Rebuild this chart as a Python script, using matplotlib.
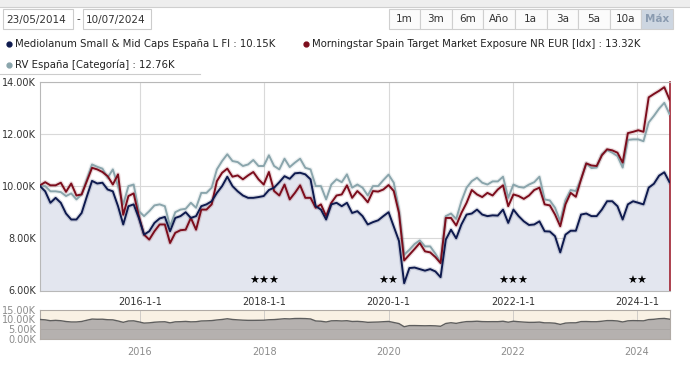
import numpy as np
import pandas as pd
import matplotlib
matplotlib.use("Agg")
import matplotlib.pyplot as plt
import matplotlib.dates as mdates
from matplotlib.patches import Rectangle
from matplotlib.lines import Line2D

# ---------------- data ----------------
start_date = "2014-05-23"
end_date = "2024-07-10"

mediolanum = [
    10.0, 9.8, 9.36, 9.55, 9.36, 8.95, 8.72, 8.72, 8.97, 9.6,
    10.2, 10.1, 10.13, 9.87, 9.8, 9.23, 8.53, 9.23, 9.3, 8.78,
    8.14, 8.27, 8.59, 8.76, 8.82, 8.27, 8.78, 8.85, 9.0, 8.78,
    8.85, 9.23, 9.3, 9.42, 9.74, 10.0, 10.36, 10.0, 9.8, 9.64,
    9.55, 9.55, 9.58, 9.62, 9.85, 9.94, 10.15, 10.38, 10.28, 10.49,
    10.51, 10.45, 10.26, 9.23, 9.1, 8.72, 9.3, 9.36, 9.23, 9.36,
    8.97, 9.04, 8.85, 8.53, 8.62, 8.69, 8.85, 9.0, 8.45, 7.9,
    6.28, 6.86, 6.88, 6.82, 6.76, 6.82, 6.73, 6.51, 7.95, 8.33,
    8.0, 8.53, 8.91, 8.95, 9.1, 8.91, 8.85, 8.88, 8.87, 9.1,
    8.59, 9.1, 8.85, 8.65, 8.51, 8.53, 8.65, 8.27, 8.26, 8.08,
    7.46, 8.14, 8.29, 8.29, 8.91, 8.95, 8.85, 8.85, 9.1, 9.42,
    9.42, 9.23, 8.72, 9.3, 9.42, 9.36, 9.3, 9.94, 10.09, 10.4,
    10.53, 10.15,
]

morningstar = [
    10.03, 10.15, 10.03, 10.03, 10.13, 9.78, 10.1, 9.64, 9.68, 10.19,
    10.7, 10.64, 10.54, 10.38, 10.06, 10.45, 8.9, 9.62, 9.72, 8.85,
    8.14, 7.95, 8.27, 8.53, 8.53, 7.82, 8.21, 8.31, 8.33, 8.78,
    8.33, 9.1, 9.1, 9.3, 10.19, 10.51, 10.67, 10.36, 10.41, 10.26,
    10.41, 10.54, 10.26, 10.06, 10.54, 9.81, 9.64, 10.06, 9.49, 9.74,
    10.03, 9.55, 9.55, 9.17, 9.3, 8.85, 9.36, 9.64, 9.68, 10.03,
    9.55, 9.81, 9.62, 9.38, 9.81, 9.79, 9.87, 10.04, 9.81, 8.97,
    7.15, 7.37, 7.59, 7.82, 7.5, 7.46, 7.28, 7.05, 8.78, 8.78,
    8.49, 8.97, 9.36, 9.85, 9.68, 9.58, 9.74, 9.64, 9.87, 10.03,
    9.23, 9.68, 9.62, 9.51, 9.64, 9.85, 9.94, 9.3, 9.26, 8.91,
    8.46, 9.3, 9.74, 9.59, 10.26, 10.87, 10.79, 10.77, 11.18, 11.41,
    11.37, 11.28, 10.9, 12.03, 12.08, 12.14, 12.08, 13.4, 13.53, 13.65,
    13.79, 13.32,
]

rv_espana = [
    10.0, 10.0, 9.8, 9.8, 9.77, 9.62, 9.72, 9.49, 9.68, 10.26,
    10.83, 10.74, 10.67, 10.32, 10.64, 10.0, 9.3, 10.0, 10.06, 9.04,
    8.85, 9.04, 9.26, 9.3, 9.23, 8.46, 9.0, 9.1, 9.13, 9.36,
    9.17, 9.74, 9.74, 9.94, 10.64, 10.96, 11.22, 10.96, 10.92, 10.77,
    10.83, 11.0, 10.77, 10.77, 11.18, 10.77, 10.64, 11.05, 10.73, 10.9,
    11.05, 10.7, 10.64, 10.0, 10.0, 9.49, 10.06, 10.26, 10.15, 10.45,
    9.94, 10.06, 9.94, 9.64, 10.0, 10.0, 10.23, 10.44, 10.13, 9.1,
    7.37, 7.56, 7.78, 7.92, 7.69, 7.69, 7.41, 7.08, 8.85, 8.95,
    8.74, 9.42, 9.94, 10.19, 10.32, 10.13, 10.06, 10.18, 10.18, 10.36,
    9.55, 10.06, 9.97, 9.94, 10.06, 10.15, 10.36, 9.49, 9.45, 9.17,
    8.65, 9.46, 9.85, 9.81, 10.26, 10.87, 10.69, 10.71, 11.22, 11.38,
    11.28, 11.15, 10.71, 11.77, 11.79, 11.79, 11.72, 12.44, 12.69, 12.97,
    13.19, 12.76,
]

series_names = [
    "Mediolanum Small & Mid Caps España L FI : 10.15K",
    "Morningstar Spain Target Market Exposure NR EUR [Idx] : 13.32K",
    "RV España [Categoría] : 12.76K",
]
y_ticks = [6, 8, 10, 12, 14]
x_tick_dates = ["2016-01-01", "2018-01-01", "2020-01-01", "2022-01-01", "2024-01-01"]
x_tick_labels = ["2016-1-1", "2018-1-1", "2020-1-1", "2022-1-1", "2024-1-1"]
nav_ticks = [0, 5, 10, 15]
nav_labels = ["2016", "2018", "2020", "2022", "2024"]
star_dates = ["2018-01-01", "2020-01-01", "2022-01-01", "2024-01-01"]
star_counts = [3, 2, 3, 2]
buttons = ["1m", "3m", "6m", "Año", "1a", "3a", "5a", "10a", "Máx"]

dates = pd.date_range(start_date, end_date, periods=len(mediolanum))

C_NAVY = "#0e1a4e"
C_RED = "#7c0d1c"
C_GRAY = "#8aa5ac"
C_FILL = "#e3e6ef"
TXT = "#333333"

W, H = 690, 381
fig = plt.figure(figsize=(W / 100, H / 100), dpi=100)
fig.patch.set_facecolor("white")


def fx(px):
    return px / W


def fy(py):
    return 1 - py / H


def rect(x0, y0, x1, y1, fc, ec="none", lw=0.8, z=1):
    fig.add_artist(Rectangle((fx(x0), fy(y1)), fx(x1) - fx(x0), fy(y0) - fy(y1),
                             facecolor=fc, edgecolor=ec, linewidth=lw, zorder=z,
                             transform=fig.transFigure))


# ---------------- header ----------------
rect(0, 0, 690, 6.5, "#eeeeee")
fig.add_artist(Line2D([0, 1], [fy(6.5), fy(6.5)], color="#cfcfcf", lw=0.8, transform=fig.transFigure))
rect(3, 9, 73, 29, "white", "#cccccc")
fig.text(fx(6), fy(19.5), "23/05/2014", fontsize=7.5, color=TXT, va="center", ha="left")
fig.text(fx(78), fy(19.5), "-", fontsize=7.5, color=TXT, va="center", ha="center")
rect(83, 9, 151, 29, "white", "#cccccc")
fig.text(fx(86), fy(19.5), "10/07/2024", fontsize=7.5, color=TXT, va="center", ha="left")

bx0, bw = 388.5, 31.6
for i, b in enumerate(buttons):
    x0 = bx0 + i * bw
    last = i == len(buttons) - 1
    rect(x0, 9, x0 + bw, 29, "#cdd6e1" if last else "#fbfbfb", "#cfcfcf")
    fig.text(fx(x0 + bw / 2), fy(19.5), b, fontsize=7.5,
             color="#8a9bb0" if last else TXT, ha="center", va="center",
             fontweight="bold" if last else "normal")

# legend
leg_pos = [(9, 44), (306, 44), (9, 65)]
for (lx, ly), name, c in zip(leg_pos, series_names, [C_NAVY, C_RED, C_GRAY]):
    fig.add_artist(Line2D([fx(lx)], [fy(ly)], marker="o", markersize=3.5, color=c,
                          linestyle="none", transform=fig.transFigure))
    fig.text(fx(lx + 6), fy(ly), name, fontsize=7.3, color="#222222", va="center", ha="left")
fig.add_artist(Line2D([0, fx(200)], [fy(74), fy(74)], color="#cccccc", lw=0.8, transform=fig.transFigure))

# ---------------- main chart ----------------
L, R, T, B = 40, 669.5, 81.7, 290.5
ax = fig.add_axes([fx(L), fy(B), fx(R) - fx(L), fy(T) - fy(B)])
ax.set_facecolor("white")
x0d, x1d = pd.Timestamp(start_date), pd.Timestamp(end_date)
ax.set_xlim(x0d, x1d)
ax.set_ylim(6, 14)

ax.fill_between(dates, mediolanum, 0, color=C_FILL, lw=0, zorder=1)
for vals, c in [(rv_espana, C_GRAY), (morningstar, C_RED), (mediolanum, C_NAVY)]:
    ax.plot(dates, vals, color=c, lw=3.2, alpha=0.15, zorder=2, solid_joinstyle="round")
    ax.plot(dates, vals, color=c, lw=1.4, zorder=3, solid_joinstyle="round")

ax.set_yticks(y_ticks)
ax.set_yticklabels([f"{float(t):.2f}K" for t in y_ticks])
ax.set_xticks([pd.Timestamp(d) for d in x_tick_dates])
ax.set_xticklabels(x_tick_labels)
ax.tick_params(axis="both", length=0, labelsize=7, colors=TXT, pad=3)
ax.tick_params(axis="x", pad=5)
ax.grid(True, color="#d9d9d9", lw=0.8, zorder=0)
ax.set_axisbelow(True)
for s in ["left", "top", "bottom"]:
    ax.spines[s].set_color("#b8b8b8")
    ax.spines[s].set_linewidth(0.8)
ax.spines["right"].set_color("#a02030")
ax.spines["right"].set_linewidth(1.2)

for d, n in zip(star_dates, star_counts):
    ax.text(pd.Timestamp(d), 6.35, "★" * n, fontsize=8, color="black", ha="center", va="center", zorder=5)

# ---------------- navigator ----------------
NT, NB = 309.7, 339
nav = fig.add_axes([fx(L), fy(NB), fx(R) - fx(L), fy(NT) - fy(NB)])
nav.set_facecolor("#f9f1e4")
nav.set_xlim(x0d, x1d)
nav.set_ylim(0, 15)
nav.fill_between(dates, mediolanum, 0, color="#b5b1af", lw=0, zorder=2)
nav.plot(dates, mediolanum, color="#5e5e5e", lw=1.0, zorder=3)
nav.set_yticks(nav_ticks)
nav.set_yticklabels([f"{float(t):.2f}K" for t in nav_ticks])
nav.set_xticks([pd.Timestamp(d) for d in x_tick_dates])
nav.set_xticklabels(nav_labels)
nav.tick_params(axis="both", length=0, labelsize=7, colors="#8c8c8c", pad=3)
nav.tick_params(axis="x", pad=6)
nav.grid(True, axis="x", color="#d0ccc8", lw=0.7, zorder=1)
nav.axhline(5, color="#a8a4a2", lw=0.6, zorder=2.5)
for s in nav.spines.values():
    s.set_color("#b0aaa5")
    s.set_linewidth(0.8)

fig.savefig("out.png", dpi=100, facecolor="white")
